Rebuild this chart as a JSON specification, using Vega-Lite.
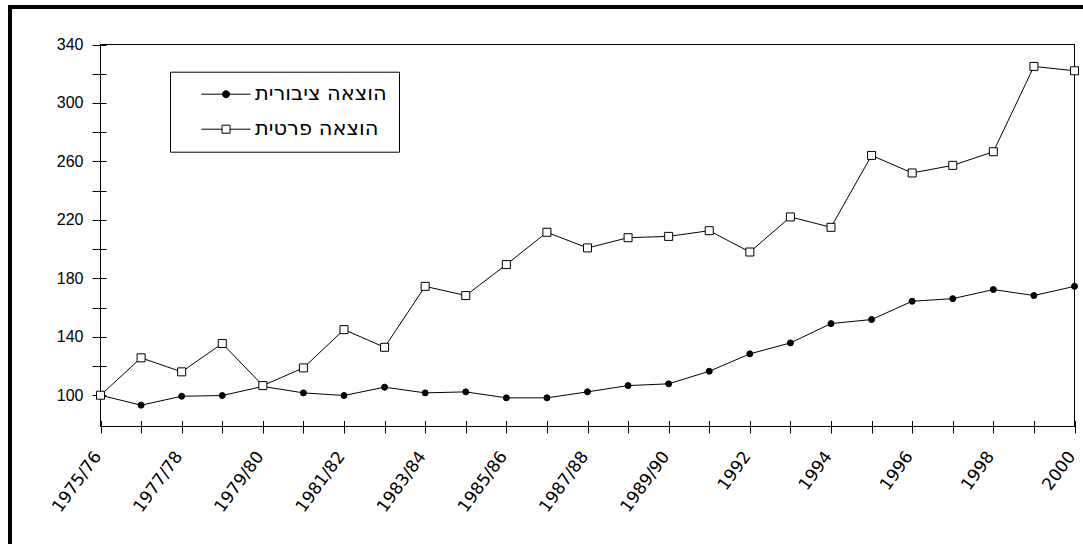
{
  "$schema": "https://vega.github.io/schema/vega-lite/v6.json",
  "autosize": {"type": "none"},
  "padding": {"left": 10, "top": 7, "right": 0, "bottom": 0},
  "width": 1080,
  "height": 545,
  "background": "white",
  "config": {
    "view": {"stroke": "black", "strokeWidth": 4},
    "axis": {"grid": false, "domain": false, "tickColor": "black", "tickWidth": 1, "labelColor": "black", "title": null}
  },
  "datasets": {
    "main": [
      {"year": "1975/76", "series": "הוצאה ציבורית", "value": 100},
      {"year": "1976/77", "series": "הוצאה ציבורית", "value": 93.2},
      {"year": "1977/78", "series": "הוצאה ציבורית", "value": 99.3},
      {"year": "1978/79", "series": "הוצאה ציבורית", "value": 99.8},
      {"year": "1979/80", "series": "הוצאה ציבורית", "value": 106},
      {"year": "1980/81", "series": "הוצאה ציבורית", "value": 101.6},
      {"year": "1981/82", "series": "הוצאה ציבורית", "value": 99.8},
      {"year": "1982/83", "series": "הוצאה ציבורית", "value": 105.5},
      {"year": "1983/84", "series": "הוצאה ציבורית", "value": 101.6},
      {"year": "1984/85", "series": "הוצאה ציבורית", "value": 102.3},
      {"year": "1985/86", "series": "הוצאה ציבורית", "value": 98.2},
      {"year": "1986/87", "series": "הוצאה ציבורית", "value": 98.2},
      {"year": "1987/88", "series": "הוצאה ציבורית", "value": 102.3},
      {"year": "1988/89", "series": "הוצאה ציבורית", "value": 106.6},
      {"year": "1989/90", "series": "הוצאה ציבורית", "value": 107.8},
      {"year": "1991", "series": "הוצאה ציבורית", "value": 116.4},
      {"year": "1992", "series": "הוצאה ציבורית", "value": 128.3},
      {"year": "1993", "series": "הוצאה ציבורית", "value": 135.8},
      {"year": "1994", "series": "הוצאה ציבורית", "value": 149},
      {"year": "1995", "series": "הוצאה ציבורית", "value": 151.8},
      {"year": "1996", "series": "הוצאה ציבורית", "value": 164.3},
      {"year": "1997", "series": "הוצאה ציבורית", "value": 166.1},
      {"year": "1998", "series": "הוצאה ציבורית", "value": 172.3},
      {"year": "1999", "series": "הוצאה ציבורית", "value": 168.2},
      {"year": "2000", "series": "הוצאה ציבורית", "value": 174.5},
      {"year": "1975/76", "series": "הוצאה פרטית", "value": 100},
      {"year": "1976/77", "series": "הוצאה פרטית", "value": 125.6},
      {"year": "1977/78", "series": "הוצאה פרטית", "value": 116},
      {"year": "1978/79", "series": "הוצאה פרטית", "value": 135.4},
      {"year": "1979/80", "series": "הוצאה פרטית", "value": 106.6},
      {"year": "1980/81", "series": "הוצאה פרטית", "value": 118.7},
      {"year": "1981/82", "series": "הוצאה פרטית", "value": 144.9},
      {"year": "1982/83", "series": "הוצאה פרטית", "value": 132.8},
      {"year": "1983/84", "series": "הוצאה פרטית", "value": 174.5},
      {"year": "1984/85", "series": "הוצאה פרטית", "value": 168.2},
      {"year": "1985/86", "series": "הוצאה פרטית", "value": 189.4},
      {"year": "1986/87", "series": "הוצאה פרטית", "value": 211.5},
      {"year": "1987/88", "series": "הוצאה פרטית", "value": 200.8},
      {"year": "1988/89", "series": "הוצאה פרטית", "value": 207.8},
      {"year": "1989/90", "series": "הוצאה פרטית", "value": 208.7},
      {"year": "1991", "series": "הוצאה פרטית", "value": 212.6},
      {"year": "1992", "series": "הוצאה פרטית", "value": 198},
      {"year": "1993", "series": "הוצאה פרטית", "value": 222},
      {"year": "1994", "series": "הוצאה פרטית", "value": 214.9},
      {"year": "1995", "series": "הוצאה פרטית", "value": 264.1},
      {"year": "1996", "series": "הוצאה פרטית", "value": 252.1},
      {"year": "1997", "series": "הוצאה פרטית", "value": 257.3},
      {"year": "1998", "series": "הוצאה פרטית", "value": 266.6},
      {"year": "1999", "series": "הוצאה פרטית", "value": 325},
      {"year": "2000", "series": "הוצאה פרטית", "value": 322}
    ]
  },
  "data": {"name": "main"},
  "layer": [
    {
      "mark": {"type": "rule", "stroke": "black", "strokeWidth": 1},
      "encoding": {
        "x": {"datum": "1975/76", "type": "ordinal"},
        "x2": {"datum": "2000"},
        "y": {"datum": 78.6, "type": "quantitative"}
      }
    },
    {
      "mark": {"type": "rule", "stroke": "black", "strokeWidth": 1},
      "encoding": {
        "x": {"datum": "1975/76", "type": "ordinal"},
        "x2": {"datum": "2000"},
        "y": {"datum": 340, "type": "quantitative"}
      }
    },
    {
      "mark": {"type": "rule", "stroke": "black", "strokeWidth": 1},
      "encoding": {
        "x": {"datum": "1975/76", "type": "ordinal"},
        "y": {"datum": 78.6, "type": "quantitative"},
        "y2": {"datum": 340}
      }
    },
    {
      "mark": {"type": "rule", "stroke": "black", "strokeWidth": 1},
      "encoding": {
        "x": {"datum": "2000", "type": "ordinal"},
        "y": {"datum": 78.6, "type": "quantitative"},
        "y2": {"datum": 340}
      }
    },
    {
      "mark": {"type": "line", "strokeWidth": 1},
      "encoding": {
        "x": {
          "field": "year",
          "type": "ordinal",
          "scale": {
            "type": "point",
            "domain": ["1975/76","1976/77","1977/78","1978/79","1979/80","1980/81","1981/82","1982/83","1983/84","1984/85","1985/86","1986/87","1987/88","1988/89","1989/90","1991","1992","1993","1994","1995","1996","1997","1998","1999","2000"],
            "range": [90.5, 1064.5],
            "padding": 0
          },
          "axis": {
            "title": null,
            "orient": "bottom",
            "offset": -131.5,
            "tickSize": 12.5,
            "labelAngle": -54,
            "labelAlign": "right",
            "labelBaseline": "middle",
            "labelPadding": 20,
            "labelOffset": -3,
            "labelFont": "DejaVu Sans",
            "labelFontSize": 17,
            "labelOverlap": false,
            "labelBound": false,
            "labelFlush": false,
            "labelExpr": "indexof(['1975/76','1977/78','1979/80','1981/82','1983/84','1985/86','1987/88','1989/90','1992','1994','1996','1998','2000'], datum.value) >= 0 ? datum.label : ''"
          }
        },
        "y": {
          "field": "value",
          "type": "quantitative",
          "scale": {"domain": [78.6, 340], "range": [419.5, 37.5], "nice": false, "zero": false},
          "axis": {
            "title": null,
            "orient": "left",
            "offset": -96,
            "values": [100, 120, 140, 160, 180, 200, 220, 240, 260, 280, 300, 320, 340],
            "tickSize": 14,
            "labelPadding": 9,
            "labelFont": "Liberation Sans",
            "labelFontSize": 16,
            "labelExpr": "datum.value % 40 == 0 ? '' : datum.label"
          }
        },
        "color": {
          "field": "series",
          "type": "nominal",
          "scale": {"domain": ["הוצאה ציבורית", "הוצאה פרטית"], "range": ["black", "black"]},
          "legend": {
            "orient": "none",
            "legendX": 160,
            "legendY": 64.7,
            "title": null,
            "strokeColor": "black",
            "fillColor": "white",
            "padding": 12,
            "symbolSize": 256,
            "symbolStrokeWidth": 1,
            "symbolStrokeColor": "black",
            "labelOffset": 52,
            "rowPadding": 13,
            "labelFont": "DejaVu Sans",
            "labelFontSize": 21,
            "labelColor": "black",
            "labelLimit": 400,
            "encode": {
              "symbols": {
                "update": {
                  "shape": {"signal": "datum.value == 'הוצאה ציבורית' ? 'M1.125,0H7.25M3.75,0A0.44,0.44,0,1,1,4.63,0A0.44,0.44,0,1,1,3.75,0Z' : 'M1.125,0H3.69M4.69,0H7.25M3.69,-0.5H4.69V0.5H3.69Z'"},
                  "fill": {"signal": "datum.value == 'הוצאה ציבורית' ? 'black' : 'white'"},
                  "stroke": {"value": "black"},
                  "strokeWidth": {"value": 1},
                  "opacity": {"value": 1}
                }
              }
            }
          }
        },
        "detail": {"field": "series", "type": "nominal"}
      }
    },
    {
      "transform": [{"filter": "datum.series == 'הוצאה ציבורית'"}],
      "mark": {"type": "point", "shape": "circle", "filled": true, "fill": "black", "stroke": "black", "strokeWidth": 1, "size": 36, "opacity": 1},
      "encoding": {
        "x": {"field": "year", "type": "ordinal"},
        "y": {"field": "value", "type": "quantitative"}
      }
    },
    {
      "transform": [{"filter": "datum.series == 'הוצאה פרטית'"}],
      "mark": {"type": "point", "shape": "square", "filled": true, "fill": "white", "stroke": "black", "strokeWidth": 1, "size": 64, "opacity": 1},
      "encoding": {
        "x": {"field": "year", "type": "ordinal"},
        "y": {"field": "value", "type": "quantitative"}
      }
    }
  ]
}
